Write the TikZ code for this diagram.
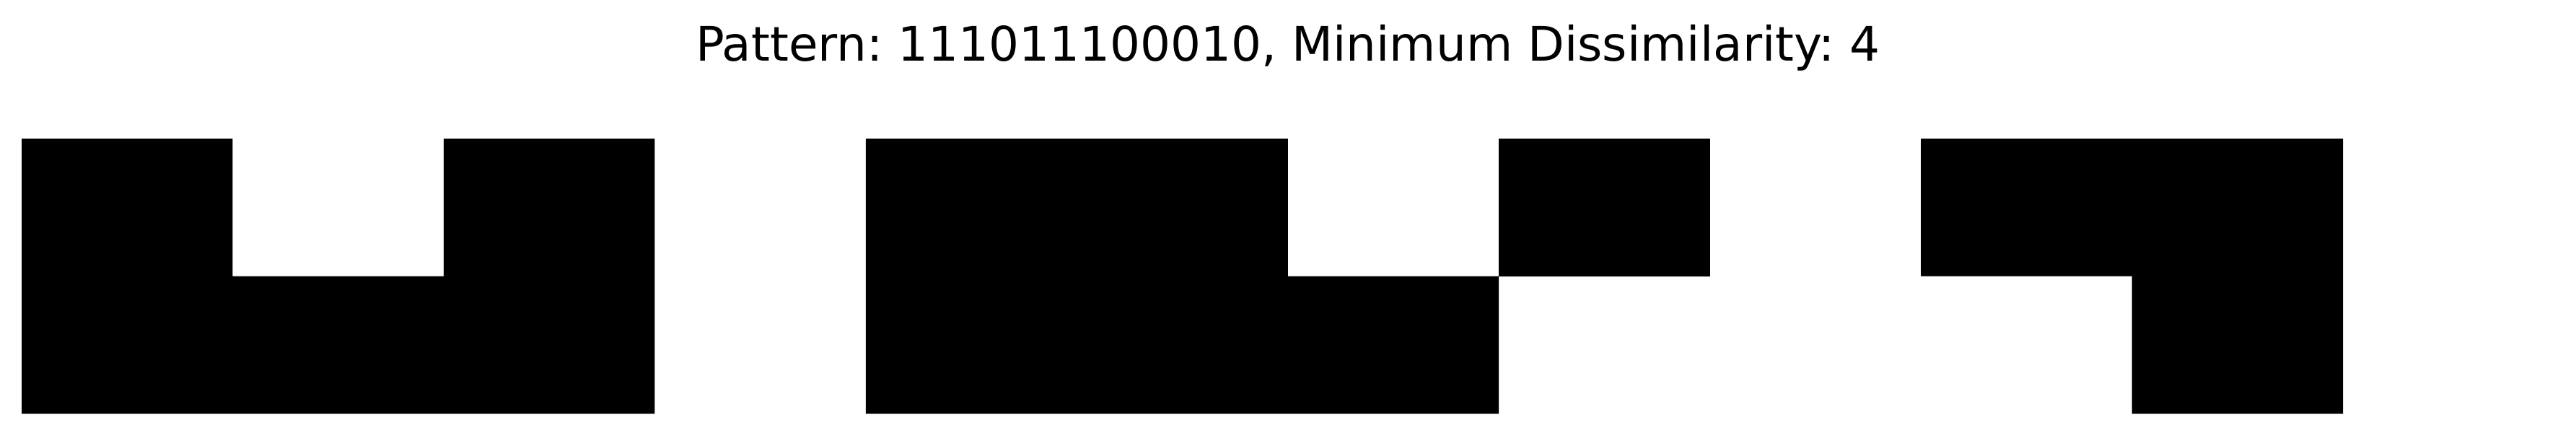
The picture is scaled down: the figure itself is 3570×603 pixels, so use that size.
\documentclass[tikz,border=0pt]{standalone}
\usepackage{fontspec}
\setmainfont{DejaVu Sans}
\frenchspacing
\begin{document}
\begin{tikzpicture}[x=1pt,y=-1pt,
  cellfill/.style={fill=black,draw=none},
  titletext/.style={font=\fontsize{66}{80}\selectfont,anchor=base,inner sep=0pt}]
\useasboundingbox[fill=white] (0,0) rectangle (3570,603);
\def\cw{292.46}
\def\xo{30}
% left group
\fill[cellfill] ({\xo+0*\cw},192) -- ({\xo+1*\cw},192) -- ({\xo+1*\cw},382.5)
  -- ({\xo+2*\cw},382.5) -- ({\xo+2*\cw},192) -- ({\xo+3*\cw},192)
  -- ({\xo+3*\cw},573) -- ({\xo+0*\cw},573) -- cycle;
% middle group
\fill[cellfill] ({\xo+4*\cw},192) -- ({\xo+6*\cw},192) -- ({\xo+6*\cw},382.5)
  -- ({\xo+7*\cw},382.5) -- ({\xo+7*\cw},573) -- ({\xo+4*\cw},573) -- cycle;
\fill[cellfill] ({\xo+7*\cw},192) rectangle ({\xo+8*\cw},382.5);
% right group
\fill[cellfill] ({\xo+9*\cw},192) -- ({\xo+11*\cw},192) -- ({\xo+11*\cw},573)
  -- ({\xo+10*\cw},573) -- ({\xo+10*\cw},382.5) -- ({\xo+9*\cw},382.5) -- cycle;
\node[titletext] (title) at (1785,84.5) {Pattern: 111011100010, Minimum Dissimilarity: 4};
\end{tikzpicture}
\end{document}
